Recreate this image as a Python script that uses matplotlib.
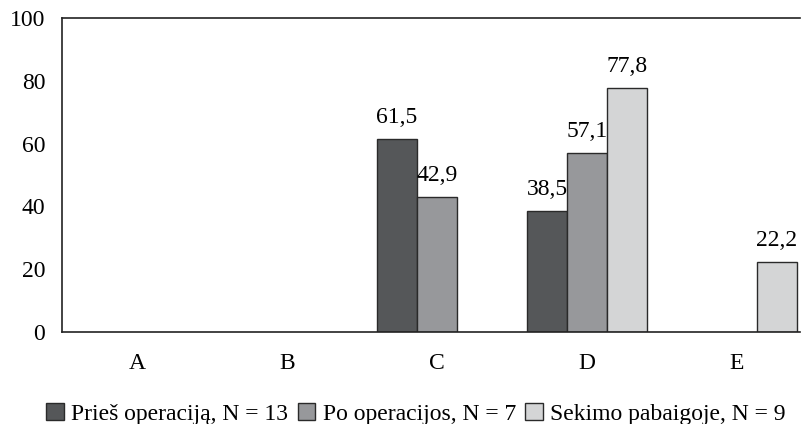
import matplotlib
matplotlib.use("Agg")
import matplotlib.pyplot as plt
import numpy as np

categories = ["A", "B", "C", "D", "E"]
series_names = ["Prieš operaciją, N = 13", "Po operacijos, N = 7", "Sekimo pabaigoje, N = 9"]
pries = [0, 0, 61.5, 38.5, 0]
po = [0, 0, 42.9, 57.1, 0]
sekimo = [0, 0, 0, 77.8, 22.2]
colors = ["#555759", "#97989b", "#d4d5d6"]
yticks = [0, 20, 40, 60, 80, 100]

plt.rcParams['font.family'] = ['Liberation Serif', 'DejaVu Serif']
fig = plt.figure(figsize=(8.04, 4.24), dpi=100)
W, H = 804, 424
ax = fig.add_axes([62 / W, 1 - 332 / H, (800 - 62) / W, (332 - 18) / H])

FS = 17
x = np.arange(len(categories))
w = 0.267
for i, (vals, c, name) in enumerate(zip([pries, po, sekimo], colors, series_names)):
    pos = x + (i - 1) * w
    for p, v in zip(pos, vals):
        if v > 0:
            ax.bar(p, v, width=w, color=c, edgecolor="#2a2a2a", linewidth=1.0, zorder=2)
            ax.annotate(f"{v:.1f}".replace(".", ","), (p, v), xytext=(0, 8),
                        textcoords="offset points", ha="center", va="bottom", fontsize=FS)
    ax.bar([np.nan], [np.nan], color=c, edgecolor="#2a2a2a", linewidth=1.0, label=name)

ax.set_xlim(-0.5, 4.42)
ax.set_ylim(0, 100)
ax.set_yticks(yticks)
ax.set_xticks(x)
ax.set_xticklabels(categories)
ax.tick_params(axis="both", length=0, labelsize=FS)
ax.tick_params(axis="x", pad=15)
ax.tick_params(axis="y", pad=12)
for s in ["left", "top", "bottom"]:
    ax.spines[s].set_linewidth(1.2)
    ax.spines[s].set_color("#222222")
ax.spines["right"].set_visible(False)

fig.legend(loc="center", bbox_to_anchor=(416 / W, 1 - 414 / H), ncol=3, frameon=False,
           fontsize=FS, handlelength=0.75, handleheight=0.75, handletextpad=0.3,
           columnspacing=0.4, borderaxespad=0, borderpad=0)

fig.savefig("out.png", dpi=100)
